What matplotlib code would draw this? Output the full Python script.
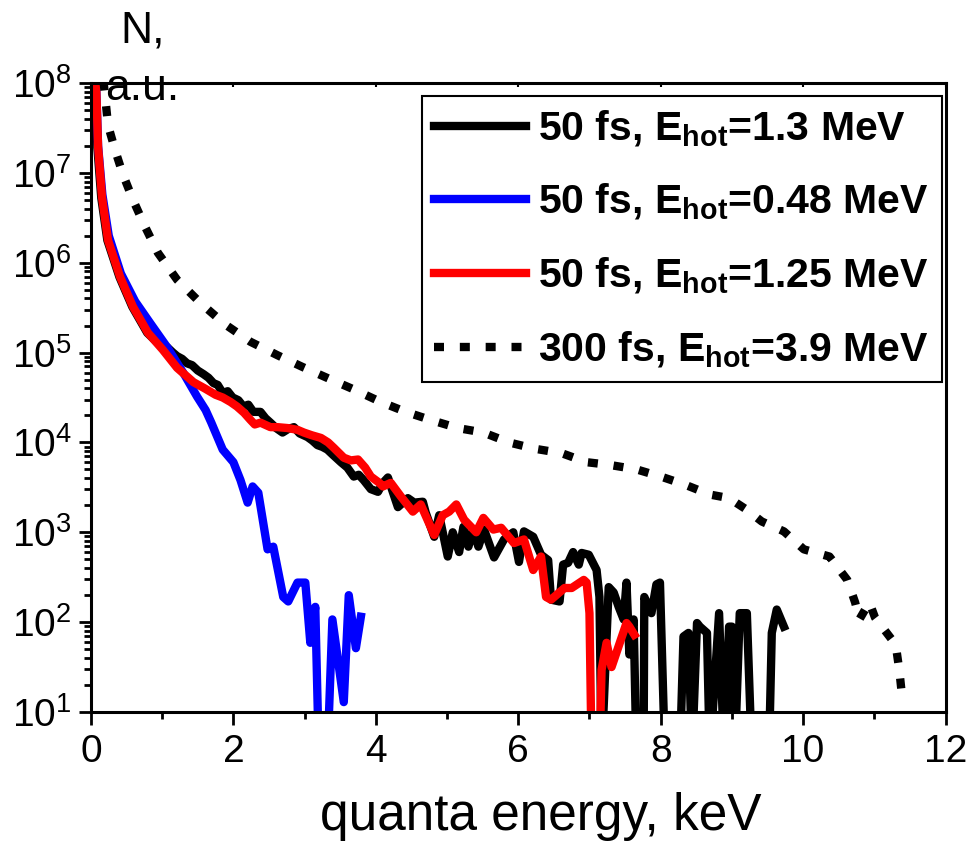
import numpy as np
import matplotlib
matplotlib.use('Agg')
import matplotlib.pyplot as plt
from matplotlib.ticker import LogLocator, MultipleLocator, NullFormatter

plt.rcParams['font.family'] = ['Liberation Sans', 'DejaVu Sans']
plt.rcParams['mathtext.fontset'] = 'custom'
plt.rcParams['mathtext.rm'] = 'Liberation Sans'
plt.rcParams['mathtext.bf'] = 'Liberation Sans:bold'

# spectra: energy (keV) and log10 of N (a.u.); values below 1 drop out of the window
e_50_13 = [0.05, 0.09, 0.145, 0.23, 0.40, 0.58, 0.79, 0.92, 1.07, 1.15, 1.21, 1.28, 1.35, 1.42,
           1.50, 1.58, 1.65, 1.72, 1.78, 1.85, 1.92, 1.99, 2.07, 2.14, 2.21, 2.28, 2.38, 2.45,
           2.52, 2.60, 2.69, 2.77, 2.85, 2.93, 3.04, 3.11, 3.18, 3.25, 3.32, 3.40, 3.51, 3.60,
           3.69, 3.76, 3.83, 3.93, 4.03, 4.10, 4.17, 4.31, 4.45, 4.54, 4.66, 4.70, 4.82, 4.89,
           5.01, 5.08, 5.17, 5.23, 5.30, 5.37, 5.44, 5.52, 5.66, 5.80, 5.93, 6.01, 6.08, 6.21,
           6.32, 6.42, 6.46, 6.58, 6.63, 6.70, 6.77, 6.85, 6.89, 6.99, 7.10, 7.14, 7.17, 7.27,
           7.34, 7.41, 7.48, 7.52, 7.56, 7.62, 7.66, 7.76, 7.77, 7.87, 7.94, 7.99, 8.06, 8.27,
           8.32, 8.39, 8.44, 8.51, 8.55, 8.65, 8.69, 8.82, 8.89, 8.96, 9.00, 9.04, 9.11, 9.21,
           9.28, 9.52, 9.56, 9.63, 9.73]
lg_50_13 = [8.3, 7.28, 6.72, 6.25, 5.84, 5.51, 5.22, 5.12, 5.06, 5.00, 4.96, 4.93, 4.88, 4.86,
            4.80, 4.76, 4.72, 4.66, 4.64, 4.55, 4.57, 4.50, 4.47, 4.40, 4.42, 4.34, 4.34, 4.27,
            4.22, 4.16, 4.11, 4.15, 4.17, 4.10, 4.06, 4.02, 3.97, 3.95, 3.92, 3.86, 3.78, 3.72,
            3.62, 3.64, 3.58, 3.48, 3.45, 3.55, 3.61, 3.28, 3.38, 3.33, 3.34, 3.22, 2.95, 3.19,
            2.73, 3.00, 2.78, 3.06, 2.84, 3.03, 2.84, 3.03, 2.72, 2.92, 3.00, 2.67, 3.01, 2.95,
            2.75, 2.69, 2.25, 2.23, 2.64, 2.66, 2.78, 2.64, 2.77, 2.75, 2.58, 2.28, 0.5, 2.39,
            2.33, 2.17, 2.03, 2.44, 1.64, 2.03, 0.5, 0.5, 2.28, 2.10, 2.42, 2.44, 0.5, 0.5,
            1.84, 1.88, 0.5, 1.99, 1.95, 1.88, 0.5, 2.10, 0.5, 1.95, 1.95, 0.5, 2.10, 2.10,
            0.5, 0.5, 1.88, 2.14, 1.95]

e_50_048 = [0.06, 0.10, 0.16, 0.25, 0.42, 0.62, 0.83, 1.07, 1.30, 1.49, 1.61, 1.69, 1.85, 2.00,
            2.10, 2.20, 2.27, 2.35, 2.48, 2.56, 2.70, 2.77, 2.90, 3.01, 3.08, 3.15, 3.20, 3.32,
            3.39, 3.55, 3.62, 3.72, 3.79]
lg_50_048 = [8.3, 7.30, 6.76, 6.30, 5.88, 5.57, 5.33, 5.06, 4.77, 4.51, 4.36, 4.22, 3.92, 3.78,
             3.58, 3.33, 3.51, 3.44, 2.81, 2.84, 2.28, 2.23, 2.44, 2.44, 1.77, 2.17, 0.5, 0.5,
             2.03, 1.11, 2.30, 1.71, 2.06]

e_50_125 = [0.06, 0.10, 0.155, 0.24, 0.41, 0.59, 0.80, 1.01, 1.21, 1.44, 1.60, 1.75, 1.85, 1.96,
            2.05, 2.15, 2.24, 2.30, 2.38, 2.52, 2.62, 2.76, 2.90, 2.99, 3.10, 3.23, 3.33, 3.41,
            3.55, 3.65, 3.75, 3.85, 3.93, 4.05, 4.10, 4.21, 4.35, 4.52, 4.63, 4.82, 4.94, 5.03,
            5.13, 5.24, 5.41, 5.51, 5.65, 5.76, 5.94, 6.08, 6.21, 6.32, 6.39, 6.46, 6.65, 6.75,
            6.92, 6.96, 7.00, 7.03, 7.14, 7.17, 7.24, 7.31, 7.52, 7.56, 7.63]
lg_50_125 = [8.3, 7.29, 6.73, 6.25, 5.84, 5.51, 5.22, 5.03, 4.83, 4.67, 4.60, 4.53, 4.50, 4.45,
             4.40, 4.33, 4.25, 4.20, 4.22, 4.17, 4.17, 4.16, 4.14, 4.11, 4.08, 4.05, 4.00, 3.94,
             3.83, 3.80, 3.81, 3.72, 3.62, 3.55, 3.51, 3.55, 3.40, 3.23, 3.31, 2.97, 3.19, 3.23,
             3.31, 3.14, 3.00, 3.16, 3.03, 3.05, 2.88, 2.92, 2.58, 2.73, 2.28, 2.25, 2.38, 2.38,
             2.47, 2.44, 2.10, 0.5, 0.5, 1.47, 1.77, 1.50, 1.99, 1.95, 1.86]

e_300_39 = [0.10, 0.20, 0.24, 0.34, 0.45, 0.59, 0.76, 0.94, 1.21, 1.54, 1.89, 2.24, 2.62, 2.97,
            3.34, 3.69, 4.07, 4.42, 4.77, 5.15, 5.51, 5.87, 6.23, 6.61, 6.96, 7.28, 7.66, 8.04,
            8.34, 8.69, 8.96, 9.21, 9.42, 9.73, 10.01, 10.37, 10.62, 10.73, 10.79, 10.93, 11.01,
            11.30, 11.35, 11.39]
lg_300_39 = [8.6, 7.84, 7.53, 7.25, 6.98, 6.70, 6.40, 6.11, 5.81, 5.55, 5.31, 5.12, 4.97, 4.84,
             4.71, 4.59, 4.45, 4.34, 4.25, 4.16, 4.11, 4.00, 3.93, 3.88, 3.78, 3.75, 3.70, 3.61,
             3.53, 3.42, 3.38, 3.25, 3.12, 3.01, 2.81, 2.73, 2.47, 2.22, 2.03, 2.22, 2.05, 1.75,
             1.47, 1.17]

labels = [r'50 fs, E$_{\mathbf{hot}}$=1.3 MeV',
          r'50 fs, E$_{\mathbf{hot}}$=0.48 MeV',
          r'50 fs, E$_{\mathbf{hot}}$=1.25 MeV',
          r'300 fs, E$_{\mathbf{hot}}$=3.9 MeV']

fig = plt.figure(figsize=(9.76, 8.41), dpi=100)
ax = fig.add_axes([0.0932, 0.1534, 0.8756, 0.7479])

lw = 6
ax.plot(e_50_13, 10 ** np.array(lg_50_13), color='black', lw=lw, label=labels[0])
ax.plot(e_50_048, 10 ** np.array(lg_50_048), color='#0000ff', lw=lw, label=labels[1])
ax.plot(e_50_125, 10 ** np.array(lg_50_125), color='#ff0000', lw=lw, label=labels[2])
ax.plot(e_300_39, 10 ** np.array(lg_300_39), color='black', lw=lw,
        linestyle=(0, (1.2, 1.9)), dash_capstyle='butt', label=labels[3])

ax.set_yscale('log')
ax.set_xlim(0, 12)
ax.set_ylim(10, 1e8)
ax.xaxis.set_major_locator(MultipleLocator(2))
ax.xaxis.set_minor_locator(MultipleLocator(1))
ax.yaxis.set_major_locator(LogLocator(base=10, numticks=20))
ax.yaxis.set_minor_locator(LogLocator(base=10, subs=np.arange(2, 10), numticks=20))
ax.yaxis.set_minor_formatter(NullFormatter())

for s in ax.spines.values():
    s.set_linewidth(2.2)
ax.tick_params(which='both', direction='out', width=2, labelsize=28,
               top=False, right=False)
ax.tick_params(which='major', length=9, pad=5)
ax.tick_params(which='minor', length=5)
ax.tick_params(axis='x', which='both', pad=7)
# short inward marks on the top edge
ax.secondary_xaxis('top').tick_params(which='both', direction='in', length=3, width=1.5,
                                      labeltop=False)

ax.set_xlabel('quanta energy, keV', fontsize=37, labelpad=16)
ax.xaxis.label.set_x(0.526)
fig.text(0.146, 0.950, 'N,', fontsize=32, ha='center', va='baseline')
fig.text(0.146, 0.881, 'a.u.', fontsize=32, ha='center', va='baseline')

leg = ax.legend(loc='upper right', bbox_to_anchor=(0.9953, 0.9793), borderaxespad=0,
                prop={'weight': 'bold', 'size': 29.5}, handlelength=2.25, handletextpad=0.3,
                borderpad=0.3, labelspacing=0.82, fancybox=False, framealpha=1)
leg.get_frame().set_edgecolor('black')
leg.get_frame().set_linewidth(1.5)

fig.savefig('out.png', dpi=100)
